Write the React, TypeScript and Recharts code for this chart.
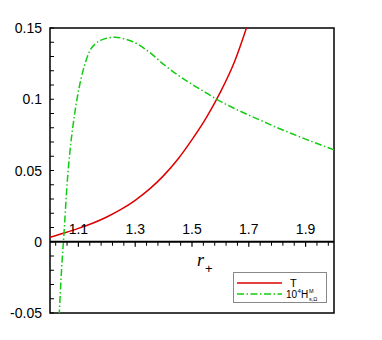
import React from "react";
import {
  LineChart,
  Line,
  XAxis,
  YAxis,
  ReferenceLine,
  ReferenceDot,
  ReferenceArea,
  Legend,
  Customized,
} from "recharts";

// r+ sample positions and values
const rT = [1.0, 1.05, 1.1, 1.15, 1.2, 1.25, 1.3, 1.35, 1.4, 1.45, 1.5, 1.55, 1.6, 1.65, 1.7];
const tValues = [0.0032, 0.0062, 0.0094, 0.013, 0.0174, 0.0227, 0.0291, 0.0369, 0.0464, 0.0579, 0.0717, 0.087, 0.105, 0.1265, 0.155];

const rH = [1.03, 1.04, 1.05, 1.06, 1.07, 1.08, 1.095, 1.11, 1.125, 1.14, 1.16, 1.18, 1.2, 1.23, 1.26, 1.29, 1.35, 1.4, 1.45, 1.5, 1.55, 1.6, 1.65, 1.7, 1.75, 1.8, 1.85, 1.9, 1.95, 2.0];
const hValues = [-0.062, -0.022, 0.008, 0.04, 0.063, 0.08, 0.1, 0.115, 0.126, 0.134, 0.139, 0.1415, 0.1428, 0.1435, 0.1425, 0.1405, 0.133, 0.1245, 0.117, 0.1105, 0.1045, 0.0985, 0.0935, 0.0888, 0.0845, 0.08, 0.076, 0.072, 0.0682, 0.0645];

const xMajorTicks = [1.1, 1.3, 1.5, 1.7, 1.9];
const xMinorTicks = [1.02, 1.06, 1.14, 1.18, 1.22, 1.26, 1.34, 1.38, 1.42, 1.46, 1.54, 1.58, 1.62, 1.66, 1.74, 1.78, 1.82, 1.86, 1.94, 1.98];
const yMajorTicks = [-0.05, 0, 0.05, 0.1, 0.15];
const yMinorTicks = [-0.04, -0.03, -0.02, -0.01, 0.01, 0.02, 0.03, 0.04, 0.06, 0.07, 0.08, 0.09, 0.11, 0.12, 0.13, 0.14];

const tData = rT.map((x, i) => ({ x, y: tValues[i] }));
const hData = rH.map((x, i) => ({ x, y: hValues[i] }));
const yTicks = [...yMajorTicks, ...yMinorTicks].sort((a, b) => a - b);

const RED = "#dd0000";
const GREEN = "#11cc11";
const DASH = "7 2.5 1.5 2.5";
const FONT = "'Liberation Sans', Arial, Helvetica, sans-serif";

const isMajorY = (v: number) => yMajorTicks.some((m) => Math.abs(m - v) < 1e-9);

const YTick = (props: any) => {
  const { x, y, payload } = props;
  const v = Number(payload.value);
  return (
    <g>
      <line x1={x} y1={y} x2={x + 4} y2={y} stroke="#000" strokeWidth={1} />
      {isMajorY(v) && (
        <text x={x - 8} y={y} textAnchor="end" dominantBaseline="central" fontSize={14} fontFamily={FONT} fill="#000">
          {String(Number(v.toFixed(2)))}
        </text>
      )}
    </g>
  );
};

const majorXShape = (label: string) => (props: any) => {
  const { cx, cy } = props;
  return (
    <g>
      <line x1={cx} y1={cy} x2={cx} y2={cy + 5} stroke="#000" strokeWidth={1.2} />
      <text x={cx} y={cy - 8} textAnchor="middle" fontSize={14} fontFamily={FONT} fill="#000">
        {label}
      </text>
    </g>
  );
};

const minorXShape = (props: any) => {
  const { cx, cy } = props;
  return <line x1={cx} y1={cy} x2={cx} y2={cy + 4} stroke="#000" strokeWidth={1} />;
};

const AxisTitle = () => (
  <g>
    <text x={197} y={266} fontSize={18} fontStyle="italic" fontFamily="'Liberation Serif', 'Times New Roman', serif" fill="#000">
      r
    </text>
    <text x={205} y={273} fontSize={13} fontFamily={FONT} fill="#000">
      +
    </text>
  </g>
);

const LegendBox = () => (
  <div
    style={{
      width: 94,
      height: 31,
      boxSizing: "border-box",
      border: "1px solid #888",
      background: "#fff",
    }}
  >
    <svg width={92} height={29} style={{ display: "block" }}>
      <line x1={3} y1={10} x2={48} y2={10} stroke={RED} strokeWidth={1.5} />
      <text x={56} y={14} fontSize={11} fontFamily={FONT} fill="#000">
        T
      </text>
      <line x1={3} y1={21} x2={48} y2={21} stroke={GREEN} strokeWidth={1.5} strokeDasharray={DASH} />
      <text x={52} y={24.5} fontSize={10} fontFamily={FONT} fill="#000">
        10
      </text>
      <text x={63.5} y={20} fontSize={6} fontFamily={FONT} fill="#000">
        4
      </text>
      <text x={67} y={24.5} fontSize={10} fontFamily={FONT} fill="#000">
        H
      </text>
      <text x={75} y={19.5} fontSize={5.5} fontFamily={FONT} fill="#000">
        M
      </text>
      <text x={75} y={27.5} fontSize={5.5} fontFamily={FONT} fill="#000">
        s,Ω
      </text>
    </svg>
  </div>
);

export default function App() {
  return (
    <div style={{ position: "absolute", left: 0, top: 0, background: "#fff" }}>
      <LineChart
        width={382}
        height={340}
        margin={{ top: 28, right: 48, bottom: 27, left: 0 }}
      >
        <XAxis type="number" dataKey="x" domain={[1, 2]} allowDataOverflow hide />
        <YAxis
          type="number"
          domain={[-0.05, 0.15]}
          allowDataOverflow
          ticks={yTicks}
          interval={0}
          width={50}
          axisLine={false}
          tickLine={false}
          tickSize={0}
          tickMargin={0}
          tick={YTick}
        />
        <ReferenceArea x1={1} x2={2} y1={-0.05} y2={0.15} fill="none" stroke="#000" strokeWidth={1.5} fillOpacity={0} ifOverflow="visible" />
        <Line data={tData} dataKey="y" type="monotone" stroke={RED} strokeWidth={1.5} dot={false} isAnimationActive={false} />
        <Line data={hData} dataKey="y" type="monotone" stroke={GREEN} strokeWidth={1.5} strokeDasharray={DASH} dot={false} isAnimationActive={false} />
        <ReferenceLine y={0} stroke="#000" strokeWidth={2} />
        {xMinorTicks.map((v) => (
          <ReferenceDot key={"m" + v} x={v} y={0} r={0} shape={minorXShape} ifOverflow="visible" />
        ))}
        {xMajorTicks.map((v) => (
          <ReferenceDot key={"M" + v} x={v} y={0} r={0} shape={majorXShape(String(v))} ifOverflow="visible" />
        ))}
        <Customized component={AxisTitle} />
        <Legend
          layout="vertical"
          align="center"
          verticalAlign="middle"
          wrapperStyle={{ left: 233, top: 272, width: 94, height: 31 }}
          content={() => <LegendBox />}
        />
      </LineChart>
    </div>
  );
}
